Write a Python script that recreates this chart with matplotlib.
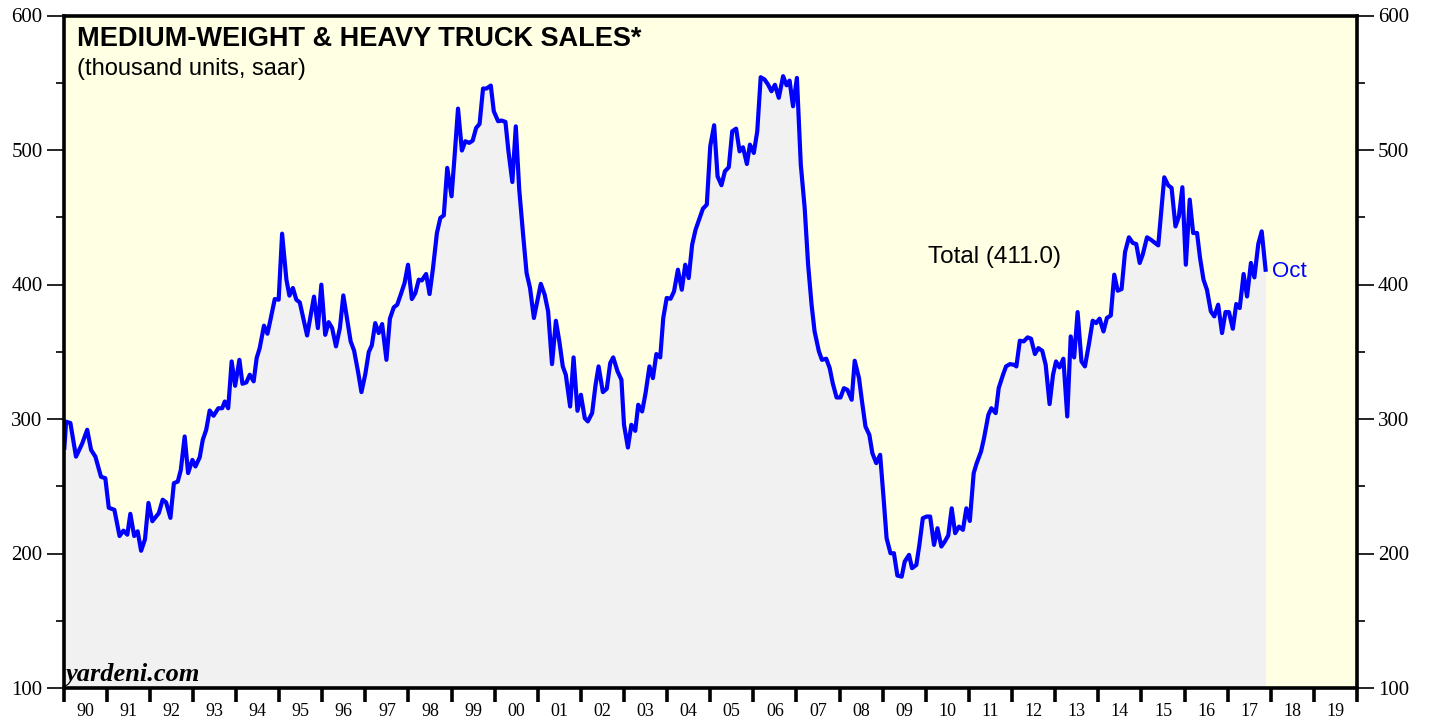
import numpy as np
import matplotlib
matplotlib.use("Agg")
import matplotlib.pyplot as plt
from matplotlib.ticker import FixedLocator, MultipleLocator

# time in years since Jan 1990, values in thousand units (saar)
t = [0.02, 0.06, 0.16, 0.29, 0.43, 0.55, 0.64, 0.74, 0.87, 0.97,
     1.05, 1.18, 1.30, 1.39, 1.48, 1.55, 1.64, 1.72, 1.80, 1.89, 1.97,
     2.06, 2.21, 2.30, 2.38, 2.48, 2.56, 2.65, 2.72, 2.81, 2.89, 2.99,
     3.06, 3.16, 3.23, 3.31, 3.39, 3.48, 3.59, 3.68, 3.74, 3.82, 3.90, 3.98,
     4.08, 4.15, 4.24, 4.32, 4.41, 4.48, 4.55, 4.65, 4.73, 4.80, 4.90, 4.99,
     5.07, 5.17, 5.24, 5.32, 5.40, 5.48, 5.65, 5.81, 5.90, 5.98,
     6.07, 6.15, 6.23, 6.32, 6.41, 6.49, 6.58, 6.66, 6.74, 6.83, 6.91,
     7.00, 7.08, 7.15, 7.23, 7.31, 7.39, 7.49, 7.57, 7.66, 7.74, 7.82, 7.91, 7.99,
     8.08, 8.16, 8.24, 8.31, 8.41, 8.49, 8.57, 8.66, 8.74, 8.82, 8.90,
     9.00, 9.07, 9.15, 9.24, 9.32, 9.41, 9.49, 9.57, 9.65, 9.73, 9.81, 9.91, 9.98,
     10.08, 10.16, 10.25, 10.32, 10.41, 10.49, 10.57, 10.66, 10.74, 10.82, 10.91,
     11.07, 11.16, 11.24, 11.33, 11.42, 11.50, 11.58, 11.65, 11.75, 11.83, 11.92,
     12.00, 12.09, 12.16, 12.26, 12.34, 12.41, 12.51, 12.60, 12.68, 12.75, 12.85, 12.94,
     13.00, 13.09, 13.17, 13.26, 13.33, 13.42, 13.50, 13.59, 13.67, 13.75, 13.84, 13.91, 13.99,
     14.08, 14.16, 14.25, 14.34, 14.42, 14.50, 14.58, 14.66, 14.75, 14.83, 14.92,
     15.00, 15.09, 15.17, 15.26, 15.34, 15.43, 15.51, 15.60, 15.68, 15.76, 15.85, 15.92,
     16.01, 16.09, 16.17, 16.26, 16.34, 16.42, 16.50, 16.59, 16.69, 16.77, 16.84, 16.92,
     17.01, 17.10, 17.19, 17.27, 17.35, 17.42, 17.52, 17.59, 17.69, 17.77, 17.84, 17.93,
     18.02, 18.10, 18.18, 18.28, 18.35, 18.45, 18.52, 18.60, 18.69, 18.76, 18.85, 18.94,
     19.02, 19.09, 19.18, 19.26, 19.34, 19.44, 19.51, 19.61, 19.68, 19.78, 19.85, 19.93,
     20.02, 20.10, 20.19, 20.27, 20.36, 20.44, 20.52, 20.60, 20.68, 20.77, 20.86, 20.94,
     21.02, 21.11, 21.18, 21.28, 21.35, 21.45, 21.52, 21.62, 21.69, 21.79, 21.86, 21.95,
     22.05, 22.10, 22.18, 22.27, 22.36, 22.44, 22.53, 22.61, 22.70, 22.78, 22.87, 22.95,
     23.02, 23.10, 23.19, 23.28, 23.36, 23.44, 23.52, 23.61, 23.69, 23.78, 23.87, 23.95,
     24.03, 24.12, 24.20, 24.29, 24.37, 24.45, 24.54, 24.62, 24.71, 24.80, 24.88, 24.96,
     25.03, 25.13, 25.22, 25.39, 25.53, 25.62, 25.70, 25.79, 25.87, 25.95,
     26.03, 26.12, 26.20, 26.29, 26.36, 26.44, 26.52, 26.61, 26.69, 26.78, 26.87, 26.95,
     27.03, 27.12, 27.20, 27.28, 27.37, 27.45, 27.54, 27.62, 27.71, 27.79, 27.88]

sales = [278.6, 298.0, 297.0, 272.0, 281.5, 292.0, 277.0, 272.0, 257.0, 256.0,
         234.0, 232.5, 213.0, 217.0, 214.0, 229.5, 213.0, 216.5, 202.0, 210.6, 237.6,
         224.0, 230.0, 240.0, 238.0, 226.5, 252.3, 253.5, 262.0, 287.0, 259.8, 269.6,
         264.7, 271.6, 284.5, 292.0, 306.3, 302.4, 308.0, 308.0, 313.0, 308.0, 342.8, 324.7,
         344.0, 326.2, 327.2, 332.9, 328.0, 345.3, 352.7, 369.4, 363.4, 373.8, 389.2, 388.7,
         437.8, 403.6, 391.7, 397.4, 388.7, 386.7, 362.1, 391.0, 367.6, 399.9,
         362.6, 372.0, 367.6, 354.0, 367.6, 391.9, 373.8, 357.7, 350.8, 335.4, 320.0,
         333.4, 349.8, 354.7, 371.3, 363.9, 370.6, 344.0, 374.6, 383.0, 385.0, 392.4, 401.1, 414.7,
         389.2, 393.6, 403.6, 403.0, 407.8, 392.9, 412.2, 438.2, 449.5, 451.4, 486.7,
         465.6, 495.3, 530.8, 499.6, 506.5, 505.3, 507.0, 516.4, 519.4, 545.7, 545.7, 547.9, 528.8,
         521.4, 521.9, 520.9, 499.0, 476.2, 517.6, 470.5, 437.0, 408.6, 397.4, 375.1,
         400.5, 392.4, 380.0, 340.8, 373.0, 357.7, 339.1, 332.9, 309.3, 345.8, 306.1,
         318.0, 300.6, 298.2, 304.4, 325.4, 339.1, 320.0, 322.5, 341.6, 345.8, 335.4, 329.2,
         295.7, 278.8, 295.7, 291.2, 310.6, 305.6, 319.3, 339.1, 330.4, 348.3, 345.8, 375.1, 390.0,
         389.4, 394.9, 411.0, 396.1, 414.7, 404.8, 429.6, 440.8, 449.0, 456.4, 459.4,
         502.8, 518.4, 480.4, 473.8, 484.2, 487.2, 513.9, 515.9, 499.0, 502.0, 489.6, 504.0,
         497.8, 513.9, 554.1, 552.4, 548.7, 543.7, 548.5, 538.8, 554.9, 548.1, 551.6, 532.5,
         553.6, 489.1, 456.9, 414.7, 385.0, 365.1, 350.3, 344.0, 344.8, 337.9, 326.7, 316.0,
         316.0, 322.9, 321.7, 314.3, 343.3, 330.4, 313.0, 294.4, 288.2, 274.6, 267.2, 273.4,
         241.2, 211.4, 200.2, 200.2, 183.6, 182.8, 194.0, 199.0, 189.1, 191.5, 206.4, 226.3,
         227.5, 227.5, 206.4, 218.8, 205.2, 208.9, 213.4, 233.6, 215.1, 220.0, 217.6, 233.6,
         224.2, 259.8, 267.2, 275.8, 285.8, 303.1, 308.0, 304.4, 323.0, 332.9, 339.1, 340.8,
         340.3, 339.1, 358.2, 357.7, 360.7, 359.7, 348.3, 352.7, 350.7, 340.3, 311.1, 332.9,
         342.8, 338.4, 344.8, 301.9, 361.4, 345.8, 379.5, 342.8, 339.1, 355.2, 373.1, 371.3,
         374.6, 365.1, 375.1, 377.0, 407.3, 395.4, 396.6, 424.1, 435.1, 430.9, 430.1, 416.0,
         422.2, 435.1, 433.3, 429.1, 479.7, 473.8, 471.8, 443.2, 450.7, 472.3,
         414.7, 463.1, 438.3, 438.3, 419.7, 403.6, 396.1, 380.0, 376.3, 385.0, 363.9, 379.5,
         379.5, 367.1, 385.5, 382.5, 407.8, 391.1, 416.0, 405.3, 430.1, 439.5, 411.0]

years = list(range(1990, 2021))
year_labels = ["%02d" % (y % 100) for y in years[:-1]]

dates = 1990 + np.array(t)
vals = np.array(sales)

fig = plt.figure(figsize=(14.29, 7.19), dpi=100)
ax = fig.add_axes([63.5 / 1429, 1 - 688 / 719, (1357 - 63.5) / 1429, (688 - 15.5) / 719])
ax.set_facecolor("#FFFFE4")

ax.fill_between(dates, vals, 100, color="#F1F1F1", linewidth=0)
ax.plot(dates, vals, color="#0000FF", linewidth=3.0, solid_joinstyle="round")

ax.set_xlim(1990, 2020)
ax.set_ylim(100, 600)

for s in ax.spines.values():
    s.set_linewidth(2.6)

# x axis: ticks at year boundaries, labels centred in between
ax.xaxis.set_major_locator(FixedLocator(years))
ax.xaxis.set_minor_locator(FixedLocator([y + 0.5 for y in years[:-1]]))
ax.set_xticklabels([], minor=False)
ax.set_xticklabels(year_labels, minor=True)
ax.tick_params(axis="x", which="major", direction="out", length=10, width=2.6)
ax.tick_params(axis="x", which="minor", length=0, pad=11, labelsize=13)

# y axis on both sides
ax.yaxis.set_major_locator(MultipleLocator(100))
ax.yaxis.set_minor_locator(MultipleLocator(50))
ax.tick_params(axis="y", which="major", direction="out", length=12, width=1.2,
               left=True, right=True, labelleft=True, labelright=True, pad=3, labelsize=15)
ax.tick_params(axis="y", which="minor", direction="out", length=6, width=1.2,
               left=True, right=True)

for lab in ax.get_xticklabels(minor=True) + ax.get_yticklabels():
    lab.set_family("Liberation Serif")

ax.text(0.0108, 0.985, "MEDIUM-WEIGHT & HEAVY TRUCK SALES*", transform=ax.transAxes,
        ha="left", va="top", fontsize=19.5, fontweight="bold", family="Liberation Sans")
ax.text(0.0108, 0.937, "(thousand units, saar)", transform=ax.transAxes,
        ha="left", va="top", fontsize=17, family="Liberation Sans")

ax.text(2010.05, 420.5, "Total (411.0)", ha="left", va="center",
        fontsize=17.5, family="Liberation Sans", color="black")
ax.text(2018.03, 410, "Oct", ha="left", va="center",
        fontsize=16, family="Liberation Sans", color="#0000FF")
ax.text(1990.05, 105.5, "yardeni.com", ha="left", va="baseline", fontsize=19,
        family="Liberation Serif", style="italic", fontweight="bold")

fig.savefig("out.png", dpi=100)
